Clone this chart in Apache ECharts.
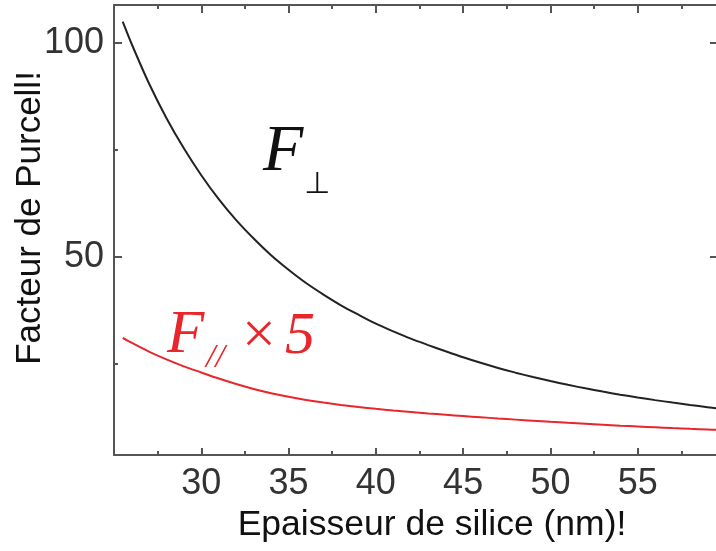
<!DOCTYPE html>
<html><head><meta charset="utf-8">
<script src="https://cdn.jsdelivr.net/npm/echarts@6/dist/echarts.min.js"></script>
<style>html,body{margin:0;padding:0;background:#fff}#c{width:716px;height:551px}</style>
</head><body><div id="c"></div>
<script>
// Data
const xPerp = [25.5,26,27,28,29,30,31,32,33,34,35,36,37,38,39,40,41,42,43,44,45,46,47,48,49,50,51,52,53,54,55,56,57,58,59,59.6];
const yPerp = [105,99.9,90.6,82.5,75.4,69.1,63.5,58.6,54.3,50.4,47.0,43.9,41.2,38.7,36.5,34.4,32.6,30.9,29.4,27.95,26.55,25.25,24.05,22.95,21.93,20.98,20.1,19.28,18.52,17.81,17.15,16.53,15.95,15.4,14.88,14.57];
const xPar = [25.5,26,27,28,29,30,31,32,33,34,35,36,37,38,39,40,41,42,43,44,45,46,47,48,49,50,51,52,53,54,55,56,57,58,59,59.6];
const yPar = [31.1,29.95,27.88,26.05,24.43,23.0,21.58,20.3,19.14,18.15,17.3,16.58,15.95,15.4,14.92,14.5,14.12,13.77,13.43,13.11,12.81,12.52,12.24,11.97,11.71,11.46,11.22,10.99,10.77,10.56,10.36,10.17,9.99,9.82,9.66,9.57];
const xTickLabels = [30,35,40,45,50,55];
const yMajor = [50,100];
const yMinor = [25,75];
const xTitle = 'Epaisseur de silice (nm)!';
const yTitle = 'Facteur de Purcell!';

const X_MIN = 25, X_MAX = 59.6, Y_MIN = 3.7, Y_MAX = 108.9;
const AX = '#555';
const sans = "'Liberation Sans', Arial, sans-serif";
const serif = "'Liberation Serif', 'Times New Roman', serif";

const chart = echarts.init(document.getElementById('c'));
const zip = (xs, ys) => xs.map((x, i) => [x, ys[i]]);

const baseX = {
  type: 'value', min: X_MIN, max: X_MAX, interval: 5,
  splitLine: {show: false},
  axisLine: {show: true, onZero: false, lineStyle: {color: AX, width: 2}},
};
const baseY = {
  type: 'value', min: Y_MIN, max: Y_MAX,
  splitLine: {show: false},
  axisLine: {show: true, onZero: false, lineStyle: {color: AX, width: 2}},
};

chart.setOption({
  animation: false,
  grid: {left: 114, right: -2, top: 5, bottom: 96, containLabel: false, outerBoundsMode: 'none'},
  xAxis: [
    Object.assign({}, baseX, {
      position: 'bottom',
      axisTick: {show: true, inside: true, length: 7, lineStyle: {color: AX, width: 2}},
      minorTick: {show: true, splitNumber: 2, length: 4, lineStyle: {color: AX, width: 2}},
      axisLabel: {
        show: true, margin: 11, color: '#333', fontSize: 36, fontFamily: sans,
        formatter: v => xTickLabels.indexOf(v) >= 0 ? String(v) : ''
      },
      name: xTitle, nameLocation: 'middle', nameGap: 52, nameMoveOverlap: false,
      nameTextStyle: {color: '#111', fontSize: 35.5, fontFamily: sans, padding: [0, 0, 0, 32]}
    }),
    Object.assign({}, baseX, {
      position: 'top',
      axisTick: {show: true, inside: true, length: 8, lineStyle: {color: AX, width: 2}},
      minorTick: {show: true, splitNumber: 2, length: 4, lineStyle: {color: AX, width: 2}},
      axisLabel: {show: false}
    })
  ],
  yAxis: [
    Object.assign({}, baseY, {
      position: 'left',
      axisTick: {show: true, inside: true, length: 8, customValues: yMajor, lineStyle: {color: AX, width: 2}},
      axisLabel: {show: true, customValues: yMajor, margin: 10, color: '#333', fontSize: 36, fontFamily: sans},
      name: yTitle, nameLocation: 'middle', nameGap: 66, nameMoveOverlap: false,
      nameTextStyle: {color: '#111', fontSize: 35, fontFamily: sans, padding: [0, 0, 0, 24]}
    }),
    Object.assign({}, baseY, {
      position: 'right',
      axisTick: {show: true, inside: true, length: 8, customValues: yMajor, lineStyle: {color: AX, width: 2}},
      axisLabel: {show: false}
    }),
    Object.assign({}, baseY, {
      position: 'left',
      axisLine: {show: false},
      axisTick: {show: true, inside: true, length: 4, customValues: yMinor, lineStyle: {color: AX, width: 2}},
      axisLabel: {show: false}
    })
  ],
  series: [
    {type: 'line', name: 'F⊥', data: zip(xPerp, yPerp), showSymbol: false, smooth: 0.3,
     lineStyle: {color: '#222', width: 2}, xAxisIndex: 0, yAxisIndex: 0},
    {type: 'line', name: 'F// × 5', data: zip(xPar, yPar), showSymbol: false, smooth: 0.3,
     lineStyle: {color: '#e8262b', width: 2}, xAxisIndex: 0, yAxisIndex: 0}
  ],
  graphic: [
    {type: 'text', x: 263, y: 153, style: {text: 'F', font: 'italic 66px ' + serif, fill: '#111', align: 'left', verticalAlign: 'middle'}},
    {type: 'text', x: 304, y: 185, style: {text: '⊥', font: '30px DejaVu Sans, sans-serif', fill: '#111', align: 'left', verticalAlign: 'middle'}},
    {type: 'text', x: 167, y: 336, style: {text: 'F', font: 'italic 61px ' + serif, fill: '#e8262b', align: 'left', verticalAlign: 'middle'}},
    {type: 'text', x: 206, y: 358, style: {text: '//', font: 'italic 34px ' + serif, fill: '#e8262b', align: 'left', verticalAlign: 'middle'}},
    {type: 'text', x: 242, y: 337, style: {text: '×', font: '60px ' + serif, fill: '#e8262b', align: 'left', verticalAlign: 'middle'}},
    {type: 'text', x: 285, y: 337, style: {text: '5', font: 'italic 60px ' + serif, fill: '#e8262b', align: 'left', verticalAlign: 'middle'}}
  ]
});
</script>
</body></html>
